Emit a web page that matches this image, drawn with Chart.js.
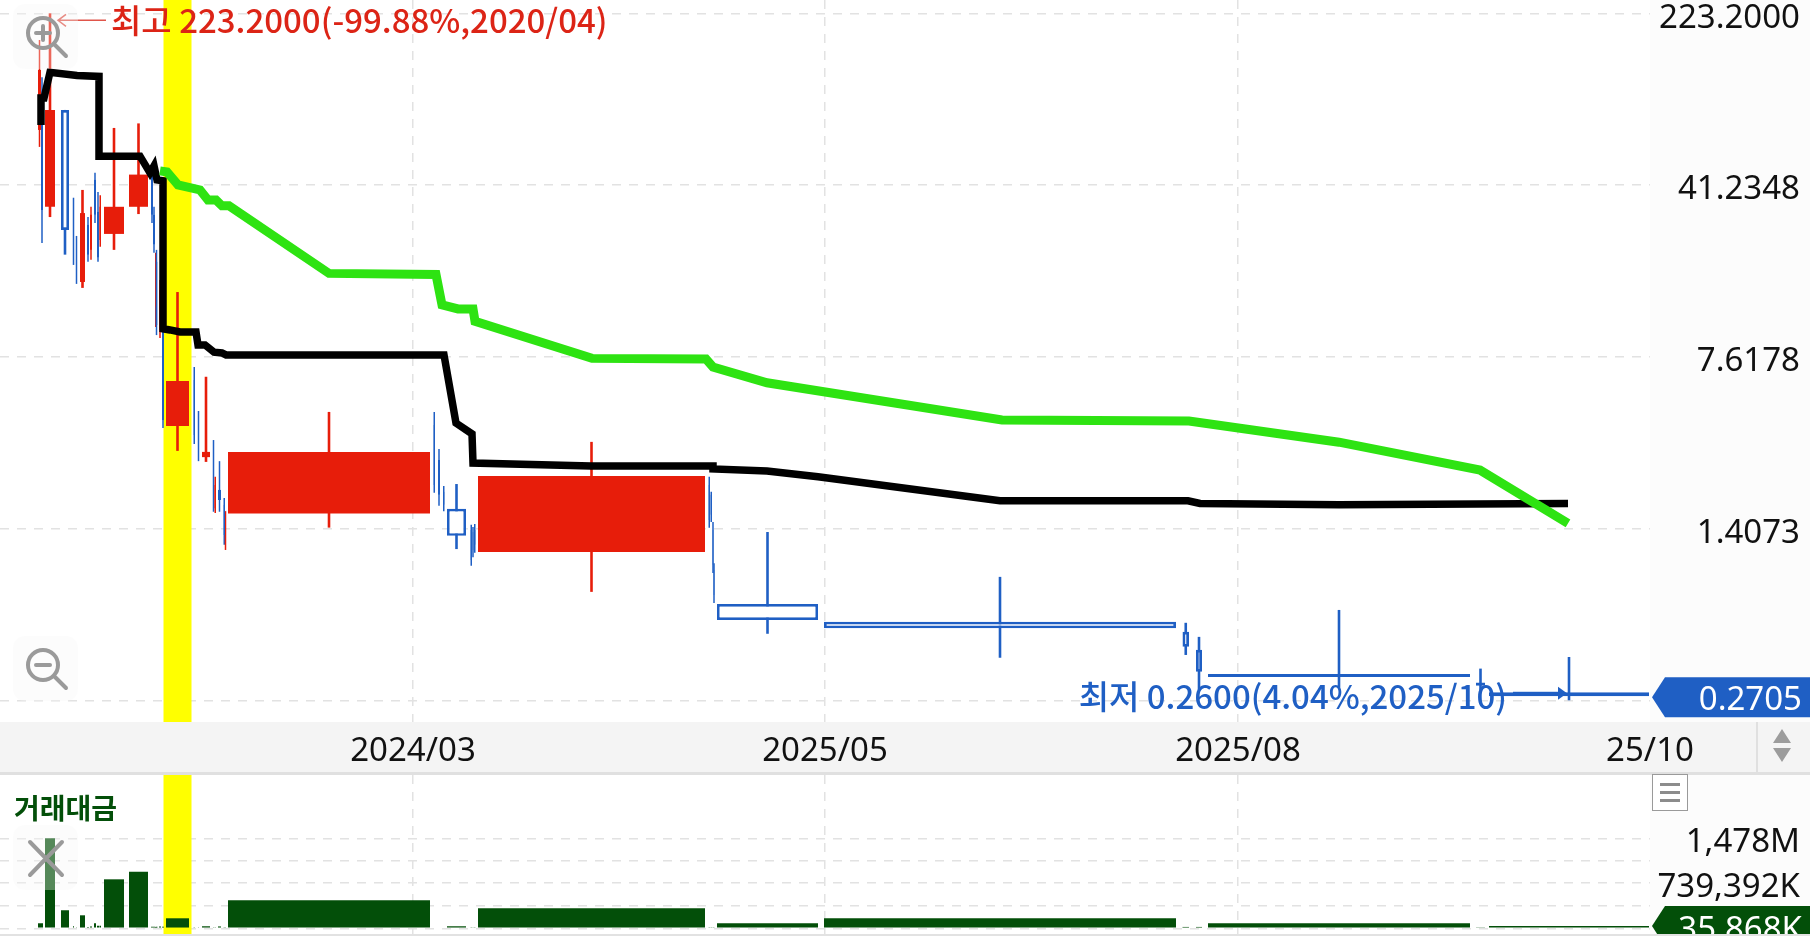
<!DOCTYPE html>
<html>
<head>
<meta charset="utf-8">
<title>거래대금 차트</title>
<script src="https://cdn.jsdelivr.net/npm/chart.js@4/dist/chart.umd.min.js"></script>
<style>
  html, body { margin: 0; padding: 0; background: #fff; overflow: hidden; }
  #wrap { position: relative; width: 1810px; height: 936px; overflow: hidden; font-family: "Noto Sans", sans-serif; }
  #rightPanel { position: absolute; left: 1650px; top: 0; width: 160px; height: 936px; background: #fcfcfc; }
  #band { position: absolute; left: 0; top: 722px; width: 1810px; height: 50px; background: #f4f4f4; border-bottom: 3px solid #e0e0e0; }
  #bandSep { position: absolute; left: 1756px; top: 722px; width: 2px; height: 50px; background: #e0e0e0; }
  #bottomLine { position: absolute; left: 0; top: 934px; width: 1810px; height: 2px; background: #e2e2e2; }
  canvas { position: absolute; left: 0; display: block; }
  #priceChart { top: 0; }
  #volChart { top: 775px; }
  .btn { position: absolute; left: 13px; width: 65px; height: 65px; border-radius: 12px; background: rgba(245,245,245,.34); }
  .btn svg { position: absolute; left: 0; top: 0; }
  #volTitle { position: absolute; left: 14px; top: 788px; font: bold 28px "Noto Sans CJK KR", sans-serif; color: #034f09; line-height: 38px; }
  #menuBtn { position: absolute; left: 1652px; top: 774px; width: 34px; height: 35px; border: 1px solid #9a9a9a; background: #fff; }
  #menuBtn i { position: absolute; left: 7px; width: 20px; height: 3px; background: #8c8c8c; }
</style>
</head>
<body>
<div id="wrap">
  <div id="rightPanel"></div>
  <div id="band"></div>
  <div id="bandSep"></div>
  <canvas id="priceChart" width="1810" height="772"></canvas>
  <canvas id="volChart" width="1810" height="159"></canvas>
  <div id="bottomLine"></div>
  <div class="btn" style="top:4px">
    <svg width="65" height="65"><g fill="none" stroke="#9a9a9a" stroke-width="4" stroke-linecap="round"><circle cx="30" cy="29" r="15"/><path d="M42 41 L53 52"/><path d="M23 29 H37 M30 22 V36"/></g></svg>
  </div>
  <div class="btn" style="top:636px">
    <svg width="65" height="65"><g fill="none" stroke="#9a9a9a" stroke-width="4" stroke-linecap="round"><circle cx="30" cy="29" r="15"/><path d="M42 41 L53 52"/><path d="M23 29 H37"/></g></svg>
  </div>
  <div class="btn" style="top:825px">
    <svg width="65" height="65"><g fill="none" stroke="#9a9a9a" stroke-width="4" stroke-linecap="round"><path d="M17 17 L49 50 M49 17 L17 50"/></g></svg>
  </div>
  <div id="volTitle">거래대금</div>
  <div id="menuBtn"><i style="top:8px"></i><i style="top:16px"></i><i style="top:24px"></i></div>
  <svg style="position:absolute;left:1766px;top:726px" width="34" height="42"><path d="M16 3 L25 17 H7 Z M7 22 H25 L16 36 Z" fill="#9c9c9c"/></svg>
</div>

<script>
// candles, x is position on the equivolume axis (width of a candle = its turnover)
const candleStart = [38, 41, 45, 61, 73, 76, 80, 87, 90, 94, 97, 99.5, 104, 129, 151, 153, 155, 155.5, 159, 162, 166, 193.5, 198, 202, 213, 214.5, 218, 223.5, 225, 228, 433.5, 438, 443, 447, 470.5, 472.5, 474, 478, 708.5, 710.5, 712.5, 713.5, 717, 824, 1182.5, 1196, 1208, 1476, 1489];
const candleEnd = [41, 43, 55, 69, 74, 77, 85, 89, 92, 96, 99, 101, 124, 148, 153, 155, 156.5, 157.5, 161, 164, 189, 195, 199, 210, 214, 216, 221, 225, 226, 430, 435, 440, 444.5, 466, 472, 473.5, 475.5, 705, 710, 712, 713.5, 714.5, 818, 1176, 1189, 1202, 1470, 1485, 1649];
const candleOpen = [70.9, 95.2, 33.3, 86.3, 30.8, 23, 15.9, 27.9, 21.8, 43.4, 31.7, 24, 25.5, 33.3, 45.7, 30.8, 12.5, 19.4, 9.92, 10.94, 3.86, 6.07, 4.09, 2.84, 3.05, 1.72, 2.06, 1.78, 1.258, 1.63, 3.9, 2.76, 2.02, 1.71, 1.388, 1.36, 1.388, 1.118, 2.16, 1.96, 1.388, 0.937, 0.67, 0.563, 0.51, 0.427, 0.337, 0.31, 0.2815];
const candleClose = [127.9, 32.3, 86.3, 26.5, 21.8, 17, 31.3, 20.8, 30.8, 30.8, 20.2, 33.3, 33.3, 45.7, 30.8, 23, 19, 10.4, 14.7, 4.09, 6.01, 3.53, 3.05, 2.99, 1.78, 2.16, 1.865, 1.32, 1.53, 2.99, 2.16, 1.96, 1.78, 1.31, 1.033, 1.14, 1.2, 2.36, 1.53, 1.61, 0.985, 0.733, 0.573, 0.528, 0.44, 0.344, 0.327, 0.3, 0.2705];
const candleHigh = [171.7, 119, 223.2, 86.3, 36.4, 25, 39.3, 30.1, 33.3, 46.5, 38.5, 37.3, 72.3, 75.6, 49.8, 33.3, 21.2, 21.8, 16.2, 12.9, 14.4, 6.89, 4.47, 6.26, 3.36, 2.34, 2.73, 1.9, 1.67, 4.43, 4.43, 3.08, 2.14, 2.18, 1.46, 1.43, 1.47, 3.3, 2.34, 2.02, 1.5, 1, 1.36, 0.875, 0.557, 0.485, 0.632, 0.355, 0.398];
const candleLow = [60, 23.3, 30.1, 20.8, 18.8, 15.6, 15, 19.4, 19.8, 28.4, 19.4, 22.5, 21.8, 31, 28.4, 21.2, 10.2, 9.43, 9.16, 3.78, 3.02, 3.23, 2.73, 2.71, 1.66, 1.64, 1.66, 1.2, 1.14, 1.42, 2, 1.76, 1.67, 1.15, 0.975, 1.06, 1.11, 0.755, 1.42, 1.5, 0.91, 0.677, 0.5, 0.395, 0.406, 0.288, 0.294, 0.288, 0.26];
// 거래대금, in millions
const candleVolume = [82, 82, 1478, 296, 33, 18, 213, 20, 30, 82, 40, 40, 804, 928, 25, 25, 20, 25, 30, 25, 164, 15, 15, 33, 15, 15, 30, 15, 15, 460, 12, 12, 12, 33, 15, 15, 15, 328, 15, 15, 15, 15, 82, 164, 22, 22, 82, 16, 35.868];

const blackX = [41, 41, 44, 50, 77, 99, 99, 140, 150, 154, 157, 163, 163, 170, 180, 196, 198, 205, 214, 222, 226, 444, 456, 472, 473, 591, 713, 713, 767, 818, 1000, 1188, 1200, 1339, 1568];
const blackY = [74.5, 97, 97, 125, 121, 120, 54.8, 54.8, 46.5, 49.8, 43.4, 43, 10.03, 9.92, 9.72, 9.72, 8.56, 8.56, 7.97, 7.91, 7.76, 7.76, 3.97, 3.57, 2.68, 2.6, 2.6, 2.53, 2.48, 2.34, 1.85, 1.85, 1.8, 1.78, 1.8];
const greenX = [160, 167, 178, 200, 208, 216, 222, 229, 329, 436, 442, 458, 473, 475, 592, 706, 713, 767, 1002, 1189, 1339, 1480, 1568];
const greenY = [47.4, 46.9, 41.3, 39.3, 35.6, 35.6, 33.6, 33.6, 17.3, 17.1, 12.7, 12.2, 12.2, 10.8, 7.5, 7.45, 6.89, 5.9, 4.09, 4.05, 3.29, 2.5, 1.48];

const yTickValues = [223.2, 41.2348, 7.6178, 1.4073, 0.26];
const xTickValues = [413, 825, 1238, 1650];
const xTickLabels = ['2024/03', '2025/05', '2025/08', '25/10'];
const volTickValues = [0, 369.7, 739.392, 1108.7, 1478];
const volTickLabels = ['', '', '739,392K', '', '1,478M'];

const lastPrice = 0.2705;
const lastPriceLabel = '0.2705';
const lastVolume = 35.868;
const lastVolumeLabel = '35,868K';
const highLabel = '최고 223.2000(-99.88%,2020/04)';
const lowLabel = '최저 0.2600(4.04%,2025/10)';
const highlightStart = 163.5;
const highlightEnd = 191.5;
const highCandle = 2;
const lowCandle = 48;

const RED = '#e71d0a';
const BLUE = '#1f5fc4';
const DARKGREEN = '#034f09';
const GRIDCOL = '#e2e2e2';
const FONT = '"Noto Sans", sans-serif';
const KFONT = '"Noto Sans CJK KR", sans-serif';

const xMax = 1650, priceMin = 0.21, priceMax = 254.4, volMin = -94, volMax = 2517;

// bar whose width comes from its own x0/x1 on the linear x scale
class CandleController extends Chart.BarController {
  _calculateBarIndexPixels(index) {
    const item = this.getDataset().data[index];
    const scale = this._cachedMeta.iScale;
    const a = scale.getPixelForValue(item.x0);
    const b = scale.getPixelForValue(item.x1);
    return { base: a, head: b, center: (a + b) / 2, size: b - a };
  }
}
CandleController.id = 'candle';
CandleController.defaults = { ...Chart.BarController.defaults };
Chart.register(CandleController);

const isUp = i => candleClose[i] >= candleOpen[i];
const midOf = i => (candleStart[i] + candleEnd[i]) / 2;
const spanOf = i => candleEnd[i] - candleStart[i];

const bodies = candleStart.map((s, i) => ({ x: midOf(i), x0: s, x1: candleEnd[i], y: [candleOpen[i], candleClose[i]] }));
const wicks = candleStart.map((s, i) => {
  const w = spanOf(i) <= 3 ? 1.5 : 2.6;
  return { x: midOf(i), x0: midOf(i) - w / 2, x1: midOf(i) + w / 2, y: [candleLow[i], candleHigh[i]] };
});
const volBars = candleStart.map((s, i) => ({ x: midOf(i), x0: s, x1: candleEnd[i], y: candleVolume[i] }));
const highlight = (lo, hi) => [{ x: (highlightStart + highlightEnd) / 2, x0: highlightStart, x1: highlightEnd, y: [lo, hi] }];

// stop chart.js reserving room for half of the first/last tick label
function noPadding(s) {
  s.paddingTop = 0;
  s.paddingBottom = 0;
  s.paddingLeft = 0;
  s.paddingRight = 0;
}

// chart.js centres y labels a bit high for this font, push them down
function nudgeYLabels(chart, dy) {
  const s = chart.scales.y;
  s.getLabelItems(chart.chartArea).forEach(item => {
    if (!item.nudged) {
      item.options.translation[1] += dy;
      item.nudged = true;
    }
  });
}

// price tag on the right side of each panel
function drawFlag(chart, yPix, text, color, textDy) {
  const c = chart.ctx;
  const left = chart.chartArea.right + 2;
  c.save();
  c.fillStyle = color;
  c.beginPath();
  c.moveTo(left, yPix);
  c.lineTo(left + 13, yPix - 20);
  c.lineTo(1810, yPix - 20);
  c.lineTo(1810, yPix + 20);
  c.lineTo(left + 13, yPix + 20);
  c.closePath();
  c.fill();
  c.fillStyle = '#fff';
  c.font = '33px ' + FONT;
  c.textAlign = 'right';
  c.textBaseline = 'middle';
  c.fillText(text, 1802, yPix + textDy);
  c.restore();
}

const pricePlugin = {
  id: 'priceMarks',
  beforeDraw(chart) {
    nudgeYLabels(chart, 5);
  },
  afterDraw(chart) {
    const c = chart.ctx, sx = chart.scales.x, sy = chart.scales.y;
    drawFlag(chart, sy.getPixelForValue(lastPrice) + 1, lastPriceLabel, BLUE, 3);

    // 최고 label, leader goes left to the high
    const hx = sx.getPixelForValue(midOf(highCandle)) + 8;
    const hy = sy.getPixelForValue(candleHigh[highCandle]) + 7;
    c.save();
    c.strokeStyle = '#e0554a';
    c.lineWidth = 1.5;
    c.beginPath();
    c.moveTo(hx + 48, hy);
    c.lineTo(hx, hy);
    c.moveTo(hx + 8, hy - 6);
    c.lineTo(hx, hy);
    c.lineTo(hx + 8, hy + 6);
    c.stroke();
    c.fillStyle = '#dc2416';
    c.font = '500 33px ' + KFONT;
    c.textBaseline = 'middle';
    c.textAlign = 'left';
    c.fillText(highLabel, hx + 53, hy);

    // 최저 label, ends just before the low with a filled arrow
    const lx = sx.getPixelForValue(midOf(lowCandle)) - 9;
    const ly = sy.getPixelForValue(candleLow[lowCandle]) - 7;
    c.fillStyle = BLUE;
    c.fillRect(lx - 47, ly - 1.5, 47, 3);
    c.beginPath();
    c.moveTo(lx + 7, ly);
    c.lineTo(lx - 2, ly - 6.5);
    c.lineTo(lx - 2, ly + 6.5);
    c.closePath();
    c.fill();
    c.font = '500 33px ' + KFONT;
    c.textAlign = 'right';
    c.fillText(lowLabel, lx - 53, ly + 3);
    c.restore();
  }
};

const volPlugin = {
  id: 'volMarks',
  beforeDraw(chart) {
    nudgeYLabels(chart, 4);
  },
  afterDraw(chart) {
    drawFlag(chart, chart.scales.y.getPixelForValue(lastVolume), lastVolumeLabel, DARKGREEN, 5);
  }
};

function dashedGrid() {
  return { color: GRIDCOL, drawTicks: false, lineWidth: 1.5 };
}

new Chart(document.getElementById('priceChart'), {
  data: {
    datasets: [
      { type: 'line', data: greenX.map((x, i) => ({ x, y: greenY[i] })), borderColor: '#2ee312', borderWidth: 9, pointRadius: 0, tension: 0, order: 1 },
      { type: 'line', data: blackX.map((x, i) => ({ x, y: blackY[i] })), borderColor: '#000', borderWidth: 7.5, pointRadius: 0, tension: 0, order: 2 },
      {
        type: 'candle', data: bodies, order: 4, borderSkipped: false, inflateAmount: 0,
        backgroundColor: ctx => (isUp(ctx.dataIndex) ? RED : '#fff'),
        borderColor: ctx => (isUp(ctx.dataIndex) ? RED : BLUE),
        borderWidth: ctx => (isUp(ctx.dataIndex) ? 0 : 2.7)
      },
      {
        type: 'candle', data: wicks, order: 5, borderSkipped: false, inflateAmount: 0,
        backgroundColor: ctx => (isUp(ctx.dataIndex) ? RED : BLUE), borderWidth: 0
      },
      { type: 'candle', data: highlight(priceMin, priceMax), order: 10, backgroundColor: '#ffff00', borderWidth: 0, inflateAmount: 0 }
    ]
  },
  options: {
    responsive: false,
    animation: false,
    layout: { padding: { right: 10 } },
    plugins: { legend: { display: false }, tooltip: { enabled: false } },
    scales: {
      x: {
        type: 'linear', min: 0, max: xMax, position: 'bottom', offset: false,
        afterBuildTicks: s => { s.ticks = xTickValues.map(value => ({ value })); },
        afterFit: s => { s.height = 50; noPadding(s); },
        grid: { offset: false, color: ctx => (ctx.tick && ctx.tick.value >= xMax ? 'transparent' : GRIDCOL), drawTicks: false, lineWidth: 1.5 },
        border: { display: false, dash: [9, 8] },
        ticks: {
          autoSkip: false, maxRotation: 0, padding: 10, color: '#111', font: { family: FONT, size: 33 },
          callback: v => xTickLabels[xTickValues.indexOf(v)]
        }
      },
      y: {
        type: 'logarithmic', min: priceMin, max: priceMax, position: 'right',
        afterBuildTicks: s => { s.ticks = yTickValues.map(value => ({ value })); },
        afterFit: s => { s.width = 150; noPadding(s); },
        grid: dashedGrid(),
        border: { display: false, dash: [9, 8] },
        ticks: {
          autoSkip: false, crossAlign: 'far', color: '#111', font: { family: FONT, size: 33 },
          callback: v => v.toFixed(4)
        }
      }
    }
  },
  plugins: [pricePlugin]
});

new Chart(document.getElementById('volChart'), {
  data: {
    datasets: [
      { type: 'candle', data: volBars, order: 1, backgroundColor: DARKGREEN, borderWidth: 0, inflateAmount: 0 },
      { type: 'candle', data: highlight(volMin, volMax), order: 10, backgroundColor: '#ffff00', borderWidth: 0, inflateAmount: 0 }
    ]
  },
  options: {
    responsive: false,
    animation: false,
    layout: { padding: { right: 10 } },
    plugins: { legend: { display: false }, tooltip: { enabled: false } },
    scales: {
      x: {
        type: 'linear', min: 0, max: xMax, position: 'bottom', offset: false,
        afterBuildTicks: s => { s.ticks = xTickValues.map(value => ({ value })); },
        afterFit: s => { s.height = 0; noPadding(s); },
        grid: { offset: false, color: ctx => (ctx.tick && ctx.tick.value >= xMax ? 'transparent' : GRIDCOL), drawTicks: false, lineWidth: 1.5 },
        border: { display: false, dash: [9, 8] },
        ticks: { display: false }
      },
      y: {
        type: 'linear', min: volMin, max: volMax, position: 'right',
        afterBuildTicks: s => { s.ticks = volTickValues.map(value => ({ value })); },
        afterFit: s => { s.width = 150; noPadding(s); },
        grid: dashedGrid(),
        border: { display: false, dash: [9, 8] },
        ticks: {
          autoSkip: false, crossAlign: 'far', color: '#111', font: { family: FONT, size: 33 },
          callback: v => volTickLabels[volTickValues.indexOf(v)]
        }
      }
    }
  },
  plugins: [volPlugin]
});
</script>
</body>
</html>
